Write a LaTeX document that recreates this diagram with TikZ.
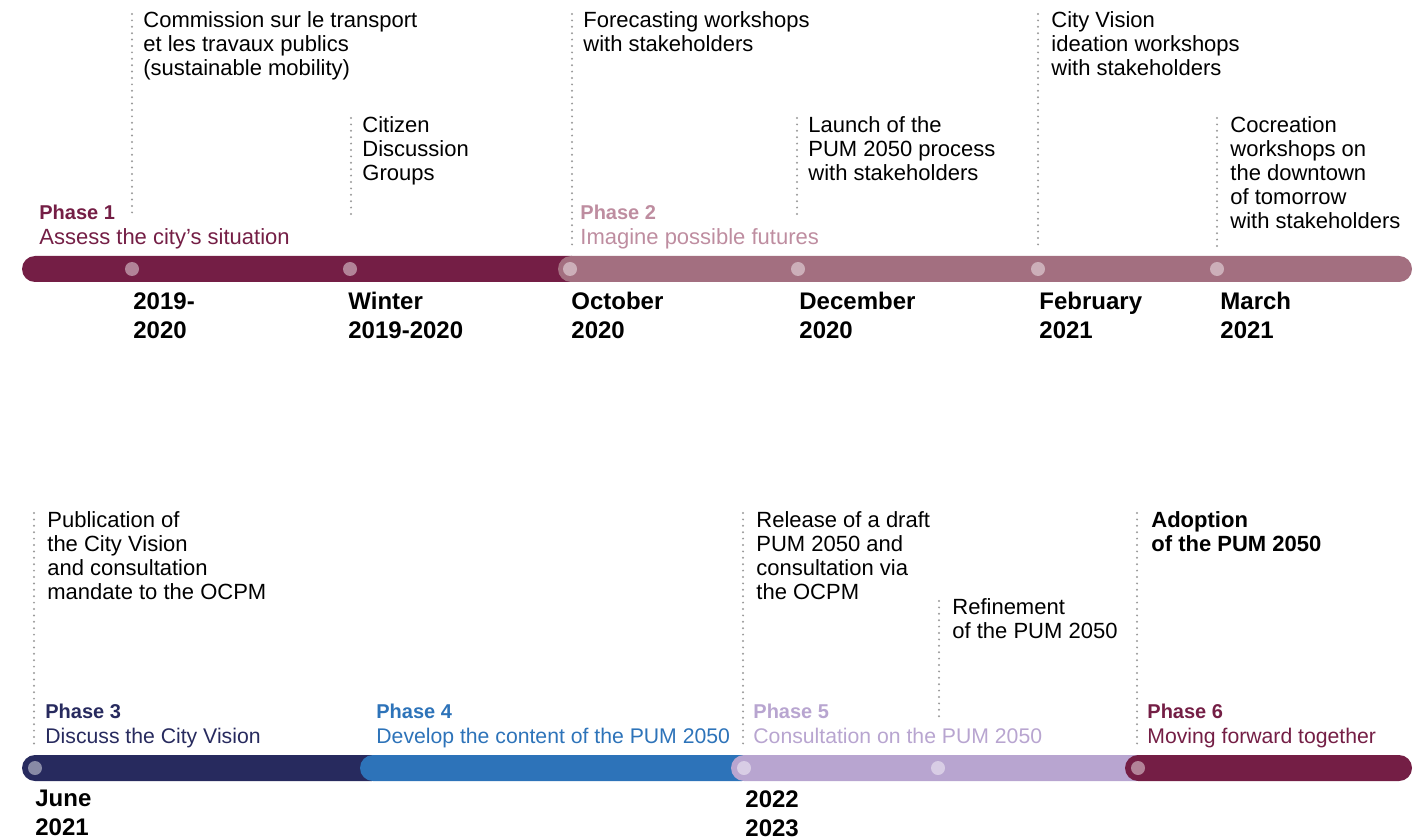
\documentclass[tikz,border=0pt]{standalone}
\usepackage{fontspec}
\setmainfont{Liberation Sans}
\usepackage{tikz}

\definecolor{phaseone}{HTML}{741E45}
\definecolor{phasetwo}{HTML}{A36F80}
\definecolor{phasetwotext}{HTML}{BE8DA0}
\definecolor{phasethree}{HTML}{272A5E}
\definecolor{phasefour}{HTML}{2D73B9}
\definecolor{phasefive}{HTML}{B8A5D0}
\definecolor{tickgray}{HTML}{9A9A9A}

\newcommand{\phasename}[1]{{\fontsize{10}{12.5}\selectfont\bfseries #1}}

\begin{document}
\begin{tikzpicture}[x=0.5pt, y=-0.5pt,
    event/.style={anchor=north west, inner sep=0pt, align=left, font=\fontsize{11}{12}\selectfont},
    phaselabel/.style={anchor=north west, inner sep=0pt, align=left, font=\fontsize{11}{12.5}\selectfont},
    datelabel/.style={anchor=north west, inner sep=0pt, align=left, font=\fontsize{12}{14.5}\selectfont\bfseries},
    tick/.style={draw=tickgray, line width=1.1pt, line cap=round, dash pattern=on 0pt off 3.2pt},
    bar/.style={rounded corners=6.5pt},
    dot/.style={circle, fill=white, fill opacity=0.45, inner sep=0pt, minimum size=7pt}]

    \useasboundingbox (0,0) rectangle (1427,839);

    % top row
    \fill [phaseone, bar] (22,256) rectangle (585,282);
    \fill [phasetwo, bar] (558,256) rectangle (1412,282);

    \node [dot] (d1) at (132,269) {};
    \node [dot] (d2) at (350,269) {};
    \node [dot] (d3) at (570,269) {};
    \node [dot] (d4) at (798,269) {};
    \node [dot] (d5) at (1038,269) {};
    \node [dot] (d6) at (1217,269) {};

    \coordinate (t1) at (132,14);  \coordinate (b1) at (132,218);
    \coordinate (t2) at (351,118); \coordinate (b2) at (351,218);
    \coordinate (t3) at (572,14);  \coordinate (b3) at (572,248);
    \coordinate (t4) at (797,118); \coordinate (b4) at (797,218);
    \coordinate (t5) at (1038,14); \coordinate (b5) at (1038,248);
    \coordinate (t6) at (1217,118); \coordinate (b6) at (1217,248);
    \draw [tick] (t1) -- (b1);
    \draw [tick] (t2) -- (b2);
    \draw [tick] (t3) -- (b3);
    \draw [tick] (t4) -- (b4);
    \draw [tick] (t5) -- (b5);
    \draw [tick] (t6) -- (b6);

    \node [event] (commission) at (143,11) {Commission sur le transport\\et les travaux publics\\(sustainable mobility)};
    \node [event] (citizen) at (362,116) {Citizen\\Discussion\\Groups};
    \node [event] (forecasting) at (583,11) {Forecasting workshops\\with stakeholders};
    \node [event] (launch) at (808,116) {Launch of the\\PUM 2050 process\\with stakeholders};
    \node [event] (cityvision) at (1051,11) {City Vision\\ideation workshops\\with stakeholders};
    \node [event] (cocreation) at (1230,116) {Cocreation\\workshops on\\the downtown\\of tomorrow\\with stakeholders};

    \node [phaselabel, text=phaseone] (p1) at (39,205) {\phasename{Phase 1}\\Assess the city’s situation};
    \node [phaselabel, text=phasetwotext] (p2) at (580,205) {\phasename{Phase 2}\\Imagine possible futures};

    \node [datelabel] (y1) at (133,292) {2019-\\2020};
    \node [datelabel] (y2) at (348,292) {Winter\\2019-2020};
    \node [datelabel] (y3) at (571,292) {October\\2020};
    \node [datelabel] (y4) at (799,292) {December\\2020};
    \node [datelabel] (y5) at (1039,292) {February\\2021};
    \node [datelabel] (y6) at (1220,292) {March\\2021};

    % bottom row
    \fill [phasethree, bar] (22,755) rectangle (385,781);
    \fill [phasefour, bar] (360,755) rectangle (755,781);
    \fill [phasefive, bar] (731,755) rectangle (1150,781);
    \fill [phaseone, bar] (1125,755) rectangle (1412,781);

    \node [dot] (d7) at (35,768) {};
    \node [dot] (d8) at (744,768) {};
    \node [dot] (d9) at (938,768) {};
    \node [dot] (d10) at (1138,768) {};

    \coordinate (t7) at (34,513);   \coordinate (b7) at (34,748);
    \coordinate (t8) at (743,513);  \coordinate (b8) at (743,748);
    \coordinate (t9) at (939,601);  \coordinate (b9) at (939,720);
    \coordinate (t10) at (1137,513); \coordinate (b10) at (1137,748);
    \draw [tick] (t7) -- (b7);
    \draw [tick] (t8) -- (b8);
    \draw [tick] (t9) -- (b9);
    \draw [tick] (t10) -- (b10);

    \node [event] (publication) at (47,511) {Publication of\\the City Vision\\and consultation\\mandate to the OCPM};
    \node [event] (release) at (756,511) {Release of a draft\\PUM 2050 and\\consultation via\\the OCPM};
    \node [event] (refinement) at (952,598) {Refinement\\of the PUM 2050};
    \node [event, font=\fontsize{11}{12}\selectfont\bfseries] (adoption) at (1151,511) {Adoption\\of the PUM 2050};

    \node [phaselabel, text=phasethree, font=\fontsize{10.6}{12.5}\selectfont] (p3) at (45,704) {\phasename{Phase 3}\\Discuss the City Vision};
    \node [phaselabel, text=phasefour, font=\fontsize{10.6}{12.5}\selectfont] (p4) at (376,704) {\phasename{Phase 4}\\Develop the content of the PUM 2050};
    \node [phaselabel, text=phasefive, font=\fontsize{10.6}{12.5}\selectfont] (p5) at (753,704) {\phasename{Phase 5}\\Consultation on the PUM 2050};
    \node [phaselabel, text=phaseone, font=\fontsize{10.6}{12.5}\selectfont] (p6) at (1147,704) {\phasename{Phase 6}\\Moving forward together};

    \node [datelabel] (y7) at (35,790) {June\\2021};
    \node [datelabel] (y8) at (745,790) {2022\\2023};

\end{tikzpicture}
\end{document}
